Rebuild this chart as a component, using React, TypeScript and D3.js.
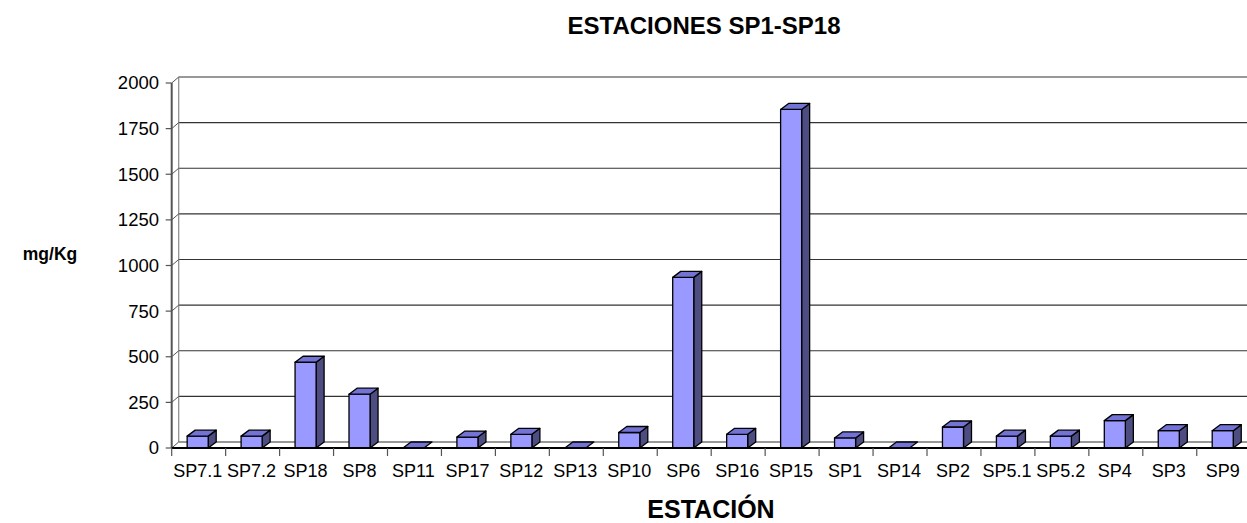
import React from "react";
import * as d3 from "d3";

const categories = ["SP7.1","SP7.2","SP18","SP8","SP11","SP17","SP12","SP13","SP10","SP6","SP16","SP15","SP1","SP14","SP2","SP5.1","SP5.2","SP4","SP3","SP9"];
const values = [65,65,470,295,0,60,75,0,85,935,75,1855,55,0,115,65,65,150,95,95];
const yTicks = [0,250,500,750,1000,1250,1500,1750,2000];
const title = "ESTACIONES SP1-SP18";
const xTitle = "ESTACIÓN";
const yTitle = "mg/Kg";

const W = 1247, H = 523;
const FONT = "'Liberation Sans', Arial, sans-serif";

export default function App() {
  const x0 = 171.7, x1 = 1250.7;
  const yBase = 448, yTop = 83;
  const wdx = 7, wdy = -6; // wall depth offset
  const bdx = 8, bdy = -6; // bar depth offset
  const x = d3.scaleBand<string>().domain(categories).range([x0, x1]);
  const y = d3.scaleLinear().domain([0, 2000]).range([yBase, yTop]);
  const bw = x.bandwidth() * 0.39;

  return (
    <svg width={W} height={H} style={{ position: "absolute", left: 0, top: 0 }}>
      <rect x={0} y={0} width={W} height={H} fill="#fff" />
      {yTicks.map((t) => (
        <line key={"g" + t} x1={x0 + wdx} x2={W} y1={y(t) + wdy} y2={y(t) + wdy} stroke="#333" strokeWidth={1.2} />
      ))}
      <line x1={x0 + wdx} x2={x0 + wdx} y1={y(2000) + wdy} y2={y(0) + wdy} stroke="#888" strokeWidth={1.2} />
      {yTicks.map((t) => (
        <line key={"d" + t} x1={x0} x2={x0 + wdx} y1={y(t)} y2={y(t) + wdy} stroke="#555" strokeWidth={1} />
      ))}
      {categories.map((c, i) => {
        const cx = (x(c) as number) + x.bandwidth() / 2 - 1;
        const l = cx - bw / 2, r = cx + bw / 2;
        const t = y(values[i]), b = y(0);
        const top = `M${l},${t} L${l + bdx},${t + bdy} L${r + bdx},${t + bdy} L${r},${t} Z`;
        const side = `M${r},${t} L${r + bdx},${t + bdy} L${r + bdx},${b + bdy} L${r},${b} Z`;
        return (
          <g key={c} stroke="#000" strokeWidth={1.3} strokeLinejoin="round">
            {values[i] > 0 && <path d={side} fill="#4d4d82" />}
            {values[i] > 0 && <rect x={l} y={t} width={bw} height={b - t} fill="#9999ff" />}
            <path d={top} fill="#7373d6" />
          </g>
        );
      })}
      <line x1={x0} x2={x0} y1={y(2000)} y2={y(0)} stroke="#555" strokeWidth={2} />
      <line x1={x0} x2={W} y1={y(0)} y2={y(0)} stroke="#000" strokeWidth={2} />
      {yTicks.map((t) => (
        <g key={"yt" + t}>
          <line x1={x0 - 6} x2={x0} y1={y(t)} y2={y(t)} stroke="#555" strokeWidth={1.2} />
          <text x={159} y={y(t)} dy="0.35em" textAnchor="end" fontFamily={FONT} fontSize={18.5}>{t}</text>
        </g>
      ))}
      {categories.map((c) => (
        <line key={"xt" + c} x1={(x(c) as number)} x2={(x(c) as number)} y1={yBase} y2={yBase + 8} stroke="#555" strokeWidth={1.2} />
      ))}
      <line x1={x1} x2={x1} y1={yBase} y2={yBase + 8} stroke="#555" strokeWidth={1.2} />
      {categories.map((c) => (
        <text key={"xl" + c} x={(x(c) as number) + x.bandwidth() / 2 - 1} y={477} textAnchor="middle" fontFamily={FONT} fontSize={18}>{c}</text>
      ))}
      <text x={704} y={34} textAnchor="middle" fontFamily={FONT} fontWeight="bold" fontSize={24}>{title}</text>
      <text x={711} y={518} textAnchor="middle" fontFamily={FONT} fontWeight="bold" fontSize={25}>{xTitle}</text>
      <text x={50} y={260} textAnchor="middle" fontFamily={FONT} fontWeight="bold" fontSize={17.5}>{yTitle}</text>
    </svg>
  );
}
